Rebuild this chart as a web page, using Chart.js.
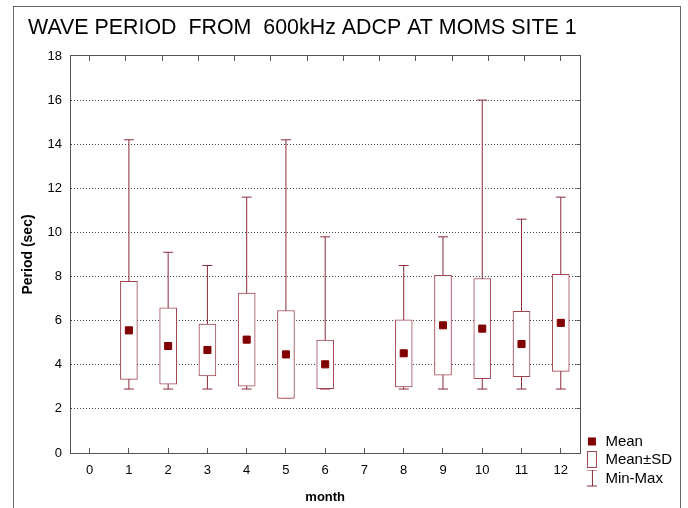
<!DOCTYPE html>
<html>
<head>
<meta charset="utf-8">
<script src="https://cdn.jsdelivr.net/npm/chart.js@4/dist/chart.umd.min.js"></script>
<style>
    body { margin: 0; background: #fff; }
    #wrap { position: relative; width: 688px; height: 508px; overflow: hidden; }
    #frame { position: absolute; left: 13px; top: 6px; width: 666px; height: 520px; border: 1px solid #666; pointer-events: none; }
</style>
</head>
<body>
<div id="wrap">
    <canvas id="waveChart" width="688" height="508"></canvas>
    <div id="frame"></div>
</div>
<script>
// Monthly wave period statistics (seconds)
const months = [1, 2, 3, 4, 5, 6, 8, 9, 10, 11, 12];
const meanPeriod = [5.56, 4.85, 4.67, 5.14, 4.47, 4.02, 4.52, 5.79, 5.64, 4.94, 5.90];
const sdPeriod = [2.22, 1.73, 1.18, 2.11, 1.99, 1.10, 1.52, 2.26, 2.27, 1.48, 2.20];
const minPeriod = [2.9, 2.9, 2.9, 2.9, 2.5, 2.9, 2.9, 2.9, 2.9, 2.9, 2.9];
const maxPeriod = [14.2, 9.1, 8.5, 11.6, 14.2, 9.8, 8.5, 9.8, 16.0, 10.6, 11.6];
const monthTicks = [0, 1, 2, 3, 4, 5, 6, 7, 8, 9, 10, 11, 12];
const periodTicks = [0, 2, 4, 6, 8, 10, 12, 14, 16, 18];

const MEAN_COLOR = '#800000';
const BOX_COLOR = '#a24452';
const WHISKER_COLOR = '#8b2a3a';
const AXIS_COLOR = '#555';
const FONT = 'Liberation Sans, Arial';

document.addEventListener('DOMContentLoaded', function() {
    const boxData = months.map((m, i) => ({ x: m, y: [meanPeriod[i] - sdPeriod[i], meanPeriod[i] + sdPeriod[i]] }));
    const meanData = months.map((m, i) => ({ x: m, y: meanPeriod[i] }));

    // vertical min-max lines, broken between months
    const whiskerData = [];
    const capData = [];
    months.forEach((m, i) => {
        whiskerData.push({ x: m, y: minPeriod[i] }, { x: m, y: maxPeriod[i] }, { x: m, y: null });
        capData.push({ x: m, y: minPeriod[i] }, { x: m, y: maxPeriod[i] });
    });

    // small canvases used as legend symbols
    function makeIcon(draw) {
        const c = document.createElement('canvas');
        c.width = 12;
        c.height = 18;
        const g = c.getContext('2d');
        draw(g);
        return c;
    }
    const meanIcon = makeIcon(g => {
        g.fillStyle = MEAN_COLOR;
        g.fillRect(2, 5, 8, 8);
    });
    const boxIcon = makeIcon(g => {
        g.strokeStyle = BOX_COLOR;
        g.lineWidth = 1;
        g.strokeRect(1.5, 0.5, 9, 16);
    });
    const rangeIcon = makeIcon(g => {
        g.strokeStyle = WHISKER_COLOR;
        g.lineWidth = 1;
        g.beginPath();
        g.moveTo(1, 0.5); g.lineTo(11, 0.5);
        g.moveTo(6.5, 0.5); g.lineTo(6.5, 16.5);
        g.moveTo(1, 16.5); g.lineTo(11, 16.5);
        g.stroke();
    });
    const blankIcon = makeIcon(() => {});

    const ctx = document.getElementById('waveChart').getContext('2d');
    new Chart(ctx, {
        type: 'bar',
        data: {
            datasets: [
                {
                    type: 'line',
                    label: 'Mean',
                    data: meanData,
                    showLine: false,
                    pointStyle: 'rect',
                    pointRadius: 5,
                    pointBackgroundColor: MEAN_COLOR,
                    pointBorderColor: MEAN_COLOR,
                    pointBorderWidth: 1,
                    order: 0
                },
                {
                    type: 'bar',
                    label: 'Mean±SD',
                    data: boxData,
                    backgroundColor: '#fff',
                    borderColor: BOX_COLOR,
                    borderWidth: 1,
                    borderSkipped: false,
                    barThickness: 17,
                    order: 1
                },
                {
                    type: 'line',
                    label: 'Min-Max',
                    data: whiskerData,
                    borderColor: WHISKER_COLOR,
                    borderWidth: 1,
                    pointRadius: 0,
                    spanGaps: false,
                    order: 2
                },
                {
                    type: 'line',
                    label: 'caps',
                    data: capData,
                    showLine: false,
                    pointStyle: 'line',
                    pointRadius: 5,
                    pointBorderColor: WHISKER_COLOR,
                    pointBorderWidth: 1,
                    order: 3
                }
            ]
        },
        options: {
            responsive: false,
            animation: false,
            layout: { padding: { left: 28, right: 6, top: 0, bottom: 0 } },
            plugins: {
                tooltip: { enabled: false },
                title: {
                    display: true,
                    text: 'WAVE PERIOD  FROM  600kHz ADCP AT MOMS SITE 1',
                    align: 'start',
                    color: '#000',
                    font: { family: FONT, size: 21.4, weight: 'normal', lineHeight: 1.2 },
                    padding: { top: 15.6, bottom: 14.7 }
                },
                legend: {
                    position: 'right',
                    align: 'end',
                    labels: {
                        usePointStyle: true,
                        boxWidth: 12,
                        padding: 3.5,
                        color: '#000',
                        font: { family: FONT, size: 15, lineHeight: 1 },
                        // last entry is an empty row that lifts the key off the bottom edge
                        generateLabels: () => [
                            { text: 'Mean', pointStyle: meanIcon, fillStyle: MEAN_COLOR, strokeStyle: MEAN_COLOR, lineWidth: 0 },
                            { text: 'Mean±SD', pointStyle: boxIcon, fillStyle: '#fff', strokeStyle: BOX_COLOR, lineWidth: 0 },
                            { text: 'Min-Max', pointStyle: rangeIcon, fillStyle: '#fff', strokeStyle: WHISKER_COLOR, lineWidth: 0 },
                            { text: ' ', pointStyle: blankIcon, fillStyle: '#fff', strokeStyle: '#fff', lineWidth: 0 }
                        ]
                    }
                }
            },
            scales: {
                x: {
                    type: 'linear',
                    position: 'bottom',
                    min: -0.5,
                    max: 12.5,
                    offset: false,
                    afterBuildTicks: scale => { scale.ticks = monthTicks.map(v => ({ value: v })); },
                    afterFit: scale => { scale.height = 55; },
                    grid: { offset: false, drawOnChartArea: false, drawTicks: true, tickLength: -5, tickColor: AXIS_COLOR },
                    border: { color: AXIS_COLOR, width: 1 },
                    ticks: {
                        autoSkip: false,
                        maxRotation: 0,
                        padding: 15,
                        color: '#000',
                        font: { family: FONT, size: 13 }
                    },
                    title: {
                        display: true,
                        text: 'month',
                        color: '#000',
                        font: { family: FONT, size: 13, weight: 'bold' },
                        padding: { top: 0, bottom: 3 }
                    }
                },
                x2: {
                    type: 'linear',
                    position: 'top',
                    min: -0.5,
                    max: 12.5,
                    afterBuildTicks: scale => { scale.ticks = monthTicks.map(v => ({ value: v })); },
                    afterFit: scale => { scale.height = 0; },
                    grid: { drawOnChartArea: false, drawTicks: true, tickLength: -5, tickColor: AXIS_COLOR },
                    border: { color: AXIS_COLOR, width: 1 },
                    ticks: { display: false }
                },
                y: {
                    type: 'linear',
                    position: 'left',
                    min: 0,
                    max: 18,
                    afterBuildTicks: scale => { scale.ticks = periodTicks.map(v => ({ value: v })); },
                    afterFit: scale => { scale.width = 42; },
                    grid: { color: '#444', lineWidth: 1, drawTicks: false },
                    border: { color: AXIS_COLOR, width: 1, dash: [1, 2] },
                    ticks: {
                        padding: 8,
                        color: '#000',
                        font: { family: FONT, size: 13 }
                    },
                    title: {
                        display: true,
                        text: 'Period (sec)',
                        color: '#000',
                        font: { family: FONT, size: 14, weight: 'bold' },
                        padding: { top: -8.4, bottom: 0 }
                    }
                },
                y2: {
                    type: 'linear',
                    position: 'right',
                    min: 0,
                    max: 18,
                    afterBuildTicks: scale => { scale.ticks = periodTicks.map(v => ({ value: v })); },
                    afterFit: scale => { scale.width = 2; },
                    grid: { drawOnChartArea: false, drawTicks: true, tickLength: -4, tickColor: AXIS_COLOR },
                    border: { color: AXIS_COLOR, width: 1 },
                    ticks: { display: false }
                }
            }
        }
    });
});
</script>
</body>
</html>
